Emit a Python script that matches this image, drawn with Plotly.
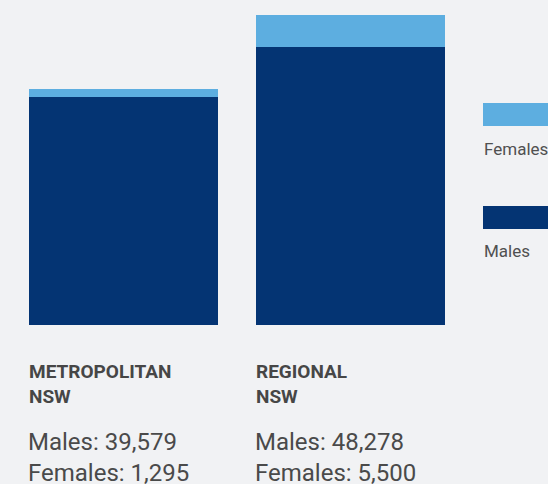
import plotly.graph_objects as go

# Data
regions = ["METROPOLITAN<br>NSW", "REGIONAL<br>NSW"]
males = [39579, 48278]
females = [1295, 5500]
series_names = ["Females", "Males"]

W, H = 548, 484
BG = "#f1f2f4"
DARK = "#043473"
LIGHT = "#5daee0"
FONT = "Roboto"

# pixel helpers for layout (positions only)
def px(x):
    return x / W

def py(y):
    return 1 - y / H

plot_bottom = 325  # px
cat_step = 227     # px between bar centres
first_centre = 123.5

x0 = -first_centre / cat_step
x1 = x0 + W / cat_step
totals = [m + f for m, f in zip(males, females)]
ymax = max(totals) * plot_bottom / 310.0

cats = [0, 1]
fig = go.Figure()
fig.add_trace(go.Bar(x=cats, y=males, name=series_names[1], marker_color=DARK,
                     marker_line_width=0, width=189 / cat_step))
fig.add_trace(go.Bar(x=cats, y=females, name=series_names[0], marker_color=LIGHT,
                     marker_line_width=0, width=189 / cat_step))

annotations = []
label_x = [27, 254]
for i, name in enumerate(regions):
    annotations.append(dict(
        x=px(label_x[i]), y=py(358), xref="paper", yref="paper",
        xanchor="left", yanchor="top", align="left", showarrow=False,
        text="<b>" + name + "</b>",
        font=dict(family=FONT, size=19, color="#464646")))
    annotations.append(dict(
        x=px(label_x[i] - 1), y=py(426), xref="paper", yref="paper",
        xanchor="left", yanchor="top", align="left", showarrow=False,
        text=f"Males: {males[i]:,}<br>Females: {females[i]:,}",
        font=dict(family=FONT, size=24, color="#4a4a4a")))

# custom legend
shapes = [
    dict(type="rect", xref="paper", yref="paper", x0=px(483), x1=1.02,
         y0=py(126), y1=py(103), fillcolor=LIGHT, line_width=0),
    dict(type="rect", xref="paper", yref="paper", x0=px(483), x1=1.02,
         y0=py(229), y1=py(206), fillcolor=DARK, line_width=0),
]
annotations.append(dict(x=px(482), y=py(148.5), xref="paper", yref="paper",
                        xanchor="left", yanchor="middle", showarrow=False,
                        text=series_names[0],
                        font=dict(family=FONT, size=17, color="#505050")))
annotations.append(dict(x=px(482), y=py(251.5), xref="paper", yref="paper",
                        xanchor="left", yanchor="middle", showarrow=False,
                        text=series_names[1],
                        font=dict(family=FONT, size=17, color="#505050")))

fig.update_layout(
    width=W, height=H,
    margin=dict(l=0, r=0, t=0, b=0),
    paper_bgcolor=BG, plot_bgcolor=BG,
    barmode="stack", showlegend=False,
    xaxis=dict(range=[x0, x1], visible=False, domain=[0, 1]),
    yaxis=dict(range=[0, ymax], visible=False, domain=[1 - plot_bottom / H, 1]),
    annotations=annotations, shapes=shapes,
    font=dict(family=FONT),
)

fig.write_html(
    "out.html",
    config={"displayModeBar": False},
    post_script="document.body.style.margin='0';document.body.style.overflow='hidden';"
                "document.body.style.background='" + BG + "';",
)
